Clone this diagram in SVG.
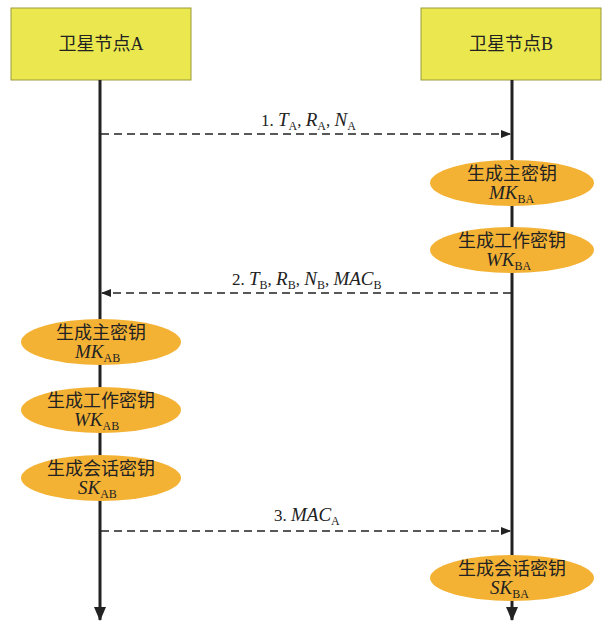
<svg xmlns="http://www.w3.org/2000/svg" width="605" height="632" viewBox="0 0 605 632">
<defs>
<style>
.box{fill:#EAE84E;stroke:#9B9A3C;stroke-width:1}
.life{stroke:#222;stroke-width:3;fill:none}
.msg{stroke:#222;stroke-width:1.5;stroke-dasharray:8 5;fill:none}
.ell{fill:#F4B235;stroke:none}
.cn{font-family:"Liberation Serif","Noto Sans CJK SC",serif;font-size:18px;fill:#222;text-anchor:middle}
.it{font-family:"Liberation Serif",serif;font-style:italic;font-size:19px;fill:#222}
.lb{font-family:"Liberation Serif",serif;font-size:17px;fill:#222}
.sub{font-family:"Liberation Serif",serif;font-style:normal;font-size:12px}
</style>
<marker id="ah" markerWidth="10" markerHeight="8" refX="9" refY="4" orient="auto" markerUnits="userSpaceOnUse">
<path d="M0,0 L10,4 L0,8 Z" fill="#222"/>
</marker>
<marker id="ahL" markerWidth="14" markerHeight="12" refX="13" refY="6" orient="auto" markerUnits="userSpaceOnUse">
<path d="M0,0 L14,6 L0,12 Z" fill="#222"/>
</marker>
</defs>
<g id="nodeA">
<rect class="box" x="11" y="8" width="180" height="72"/>
<text class="cn" x="101" y="50">卫星节点A</text>
</g>
<g id="nodeB">
<rect class="box" x="421" y="8" width="180" height="72"/>
<text class="cn" x="511" y="50">卫星节点B</text>
</g>
<g id="connectors">
<line class="life" x1="100" y1="80" x2="100" y2="620" marker-end="url(#ahL)"/>
<line class="life" x1="512" y1="80" x2="512" y2="620" marker-end="url(#ahL)"/>
<line class="msg" x1="101" y1="134" x2="510" y2="134" marker-end="url(#ah)"/>
<line class="msg" x1="511" y1="293" x2="102" y2="293" marker-end="url(#ah)"/>
<line class="msg" x1="101" y1="531" x2="510" y2="531" marker-end="url(#ah)"/>
</g>
<g id="label1">
<text class="lb" x="261" y="126">1. <tspan class="it">T</tspan><tspan class="sub" dy="4">A</tspan><tspan dy="-4">, </tspan><tspan class="it">R</tspan><tspan class="sub" dy="4">A</tspan><tspan dy="-4">, </tspan><tspan class="it">N</tspan><tspan class="sub" dy="4">A</tspan></text>
</g>
<g id="label2">
<text class="lb" x="232" y="285">2. <tspan class="it">T</tspan><tspan class="sub" dy="4">B</tspan><tspan dy="-4">, </tspan><tspan class="it">R</tspan><tspan class="sub" dy="4">B</tspan><tspan dy="-4">, </tspan><tspan class="it">N</tspan><tspan class="sub" dy="4">B</tspan><tspan dy="-4">, </tspan><tspan class="it">MAC</tspan><tspan class="sub" dy="4">B</tspan></text>
</g>
<g id="label3">
<text class="lb" x="274" y="521">3. <tspan class="it">MAC</tspan><tspan class="sub" dy="4">A</tspan></text>
</g>
<g id="mkBA">
<ellipse class="ell" cx="512" cy="183" rx="82" ry="23"/>
<text class="cn" x="512" y="180">生成主密钥</text>
<text class="it" x="489" y="199">MK<tspan class="sub" dy="4">BA</tspan></text>
</g>
<g id="wkBA">
<ellipse class="ell" cx="512" cy="250" rx="82" ry="23"/>
<text class="cn" x="512" y="247">生成工作密钥</text>
<text class="it" x="486" y="266">WK<tspan class="sub" dy="4">BA</tspan></text>
</g>
<g id="mkAB">
<ellipse class="ell" cx="101" cy="342" rx="80" ry="23"/>
<text class="cn" x="101" y="339">生成主密钥</text>
<text class="it" x="75" y="358">MK<tspan class="sub" dy="4">AB</tspan></text>
</g>
<g id="wkAB">
<ellipse class="ell" cx="101" cy="410" rx="80" ry="23"/>
<text class="cn" x="101" y="407">生成工作密钥</text>
<text class="it" x="74" y="426">WK<tspan class="sub" dy="4">AB</tspan></text>
</g>
<g id="skAB">
<ellipse class="ell" cx="101" cy="478" rx="80" ry="23"/>
<text class="cn" x="101" y="475">生成会话密钥</text>
<text class="it" x="78" y="494">SK<tspan class="sub" dy="4">AB</tspan></text>
</g>
<g id="skBA">
<ellipse class="ell" cx="512" cy="578" rx="82" ry="23"/>
<text class="cn" x="512" y="575">生成会话密钥</text>
<text class="it" x="490" y="594">SK<tspan class="sub" dy="4">BA</tspan></text>
</g>
</svg>
